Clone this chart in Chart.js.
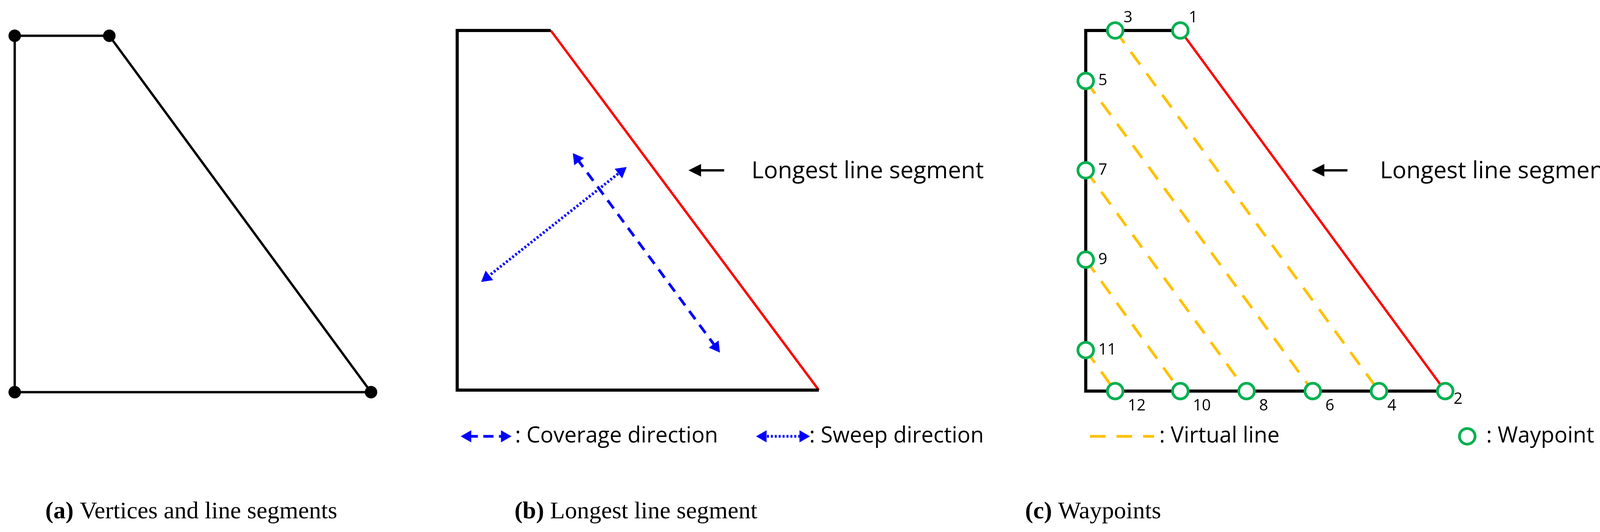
<!DOCTYPE html>
<html>
<head>
<meta charset="utf-8">
<script src="https://cdn.jsdelivr.net/npm/chart.js@4"></script>
<style>
  html, body { margin: 0; padding: 0; background: #fff; }
  canvas { display: block; }
</style>
</head>
<body>
<canvas id="fig" width="4219" height="1361"></canvas>
<script>
// drawing units: 1568 x 506 (1 unit = 2.69 px)
const polyA = [{x:14,y:34},{x:104,y:34},{x:353,y:373},{x:14,y:373},{x:14,y:34}];
const polyB = [{x:524,y:29},{x:435,y:29},{x:435,y:371},{x:779,y:371}];
const longB = [{x:524,y:29},{x:779,y:371}];
const coverageB = [{x:549,y:151},{x:681,y:330}];
const sweepB = [{x:591,y:163},{x:463,y:264}];
const polyC = [{x:1123,y:29},{x:1033,y:29},{x:1033,y:372},{x:1375,y:372}];
const longC = [{x:1123,y:29},{x:1375,y:372}];

const waypointNames = ['1','2','3','4','5','6','7','8','9','10','11','12'];
const waypointX = [1123,1375,1061,1312,1033,1249,1033,1186,1033,1123,1033,1061];
const waypointY = [29,372,29,372,77,372,162,372,247,372,333,372];
const virtualPairs = [[3,4],[5,6],[7,8],[9,10],[11,12]];

const labelDx = [8,8,8,8,12,12,12,12,12,12,12,12];
const labelDy = [-12,8,-12,14,0,14,0,14,0,14,0,14];

const captions = [
  {x:182, y:487, bold:'(a)', rest:' Vertices and line segments'},
  {x:605, y:487, bold:'(b)', rest:' Longest line segment'},
  {x:1040, y:487, bold:'(c)', rest:' Waypoints'}
];

const UNIT = 4219 / 1568;

function wp(n) { const i = waypointNames.indexOf(String(n)); return {x: waypointX[i], y: waypointY[i]}; }
function rot(a, b) { return Math.atan2(b.x - a.x, -(b.y - a.y)) * 180 / Math.PI; }

function line(data, color, width, dash, extra) {
  return Object.assign({type:'line', data, borderColor:color, borderWidth:width, borderDash:dash || [],
    pointRadius:0, fill:false, tension:0, order:1}, extra || {});
}
function arrow(pts, dash, width) {
  return line(pts, '#0000ff', width, dash, {
    pointRadius: 18, pointStyle: 'triangle', pointBackgroundColor: '#0000ff', pointBorderColor: '#0000ff',
    pointBorderWidth: 0, pointRotation: [rot(pts[1], pts[0]), rot(pts[0], pts[1])]
  });
}

const datasets = [
  line(polyA, '#000', 6, [], {pointRadius:[16,16,16,16,0], pointBackgroundColor:'#000', pointBorderWidth:0}),
  line(polyB, '#000', 8),
  line(longB, '#ff0000', 6),
  arrow(coverageB, [26,18], 7),
  arrow(sweepB, [5,5], 7),
  arrow([{x:445,y:415},{x:480,y:415}], [26,14], 7),
  arrow([{x:726,y:415},{x:764,y:415}], [5,5], 7),
  line(polyC, '#000', 8),
  line(longC, '#ff0000', 6),
  ...virtualPairs.map(p => line([wp(p[0]), wp(p[1])], '#ffc000', 7, [40,28])),
  line([{x:1037,y:415},{x:1098,y:415}], '#ffc000', 7, [40,28]),
  {type:'scatter', data: waypointX.map((x,i) => ({x, y: waypointY[i]})).concat([{x:1396,y:415}]),
   pointRadius: 20, pointBorderWidth: 7, pointBorderColor:'#00b050', pointBackgroundColor:'#fff', order:0}
];

const textPlugin = {
  id: 'texts',
  afterDatasetsDraw(chart) {
    const c = chart.ctx, sx = chart.scales.x, sy = chart.scales.y;
    const X = v => sx.getPixelForValue(v), Y = v => sy.getPixelForValue(v);
    c.save();
    c.fillStyle = '#000';
    c.textBaseline = 'middle';
    const sans = '"Open Sans", sans-serif';
    function txt(s, x, y, size, w, align) {
      c.font = size + 'px ' + sans;
      c.textAlign = align || 'left';
      if (w) c.fillText(s, X(x), Y(y), w * UNIT); else c.fillText(s, X(x), Y(y));
    }
    // "Longest line segment" annotations with arrows
    [[655, 715], [1248, 1313]].forEach(p => {
      c.strokeStyle = '#000'; c.lineWidth = 6;
      c.beginPath(); c.moveTo(X(p[0] + 34), Y(162)); c.lineTo(X(p[0] + 8), Y(162)); c.stroke();
      c.beginPath(); c.moveTo(X(p[0]), Y(162)); c.lineTo(X(p[0] + 12), Y(156)); c.lineTo(X(p[0] + 12), Y(168)); c.closePath(); c.fill();
      txt('Longest line segment', p[1], 163, 60, 236);
    });
    txt(': Coverage direction', 490, 415, 56, 198);
    txt(': Sweep direction', 770, 415, 56, 173);
    txt(': Virtual line', 1103, 415, 56, 142);
    txt(': Waypoint', 1414, 415, 56, 123);
    waypointNames.forEach((n, i) => txt(n, waypointX[i] + labelDx[i], waypointY[i] + labelDy[i], 40));
    captions.forEach(cp => {
      c.textAlign = 'left';
      c.font = 'bold 62px "Liberation Serif", serif';
      const wb = c.measureText(cp.bold).width;
      c.font = '62px "Liberation Serif", serif';
      const wr = c.measureText(cp.rest).width;
      const x0 = X(cp.x) - (wb + wr) / 2;
      c.font = 'bold 62px "Liberation Serif", serif';
      c.fillText(cp.bold, x0, Y(cp.y));
      c.font = '62px "Liberation Serif", serif';
      c.fillText(cp.rest, x0 + wb, Y(cp.y));
    });
    c.restore();
  }
};

new Chart(document.getElementById('fig'), {
  type: 'scatter',
  data: { datasets },
  options: {
    responsive: false, devicePixelRatio: 1, animation: false,
    layout: { padding: 0, autoPadding: false },
    plugins: { legend: { display: false }, tooltip: { enabled: false } },
    scales: {
      x: { type: 'linear', min: 0, max: 1568, display: false },
      y: { type: 'linear', min: 0, max: 506, reverse: true, display: false }
    }
  },
  plugins: [textPlugin]
});
</script>
</body>
</html>
